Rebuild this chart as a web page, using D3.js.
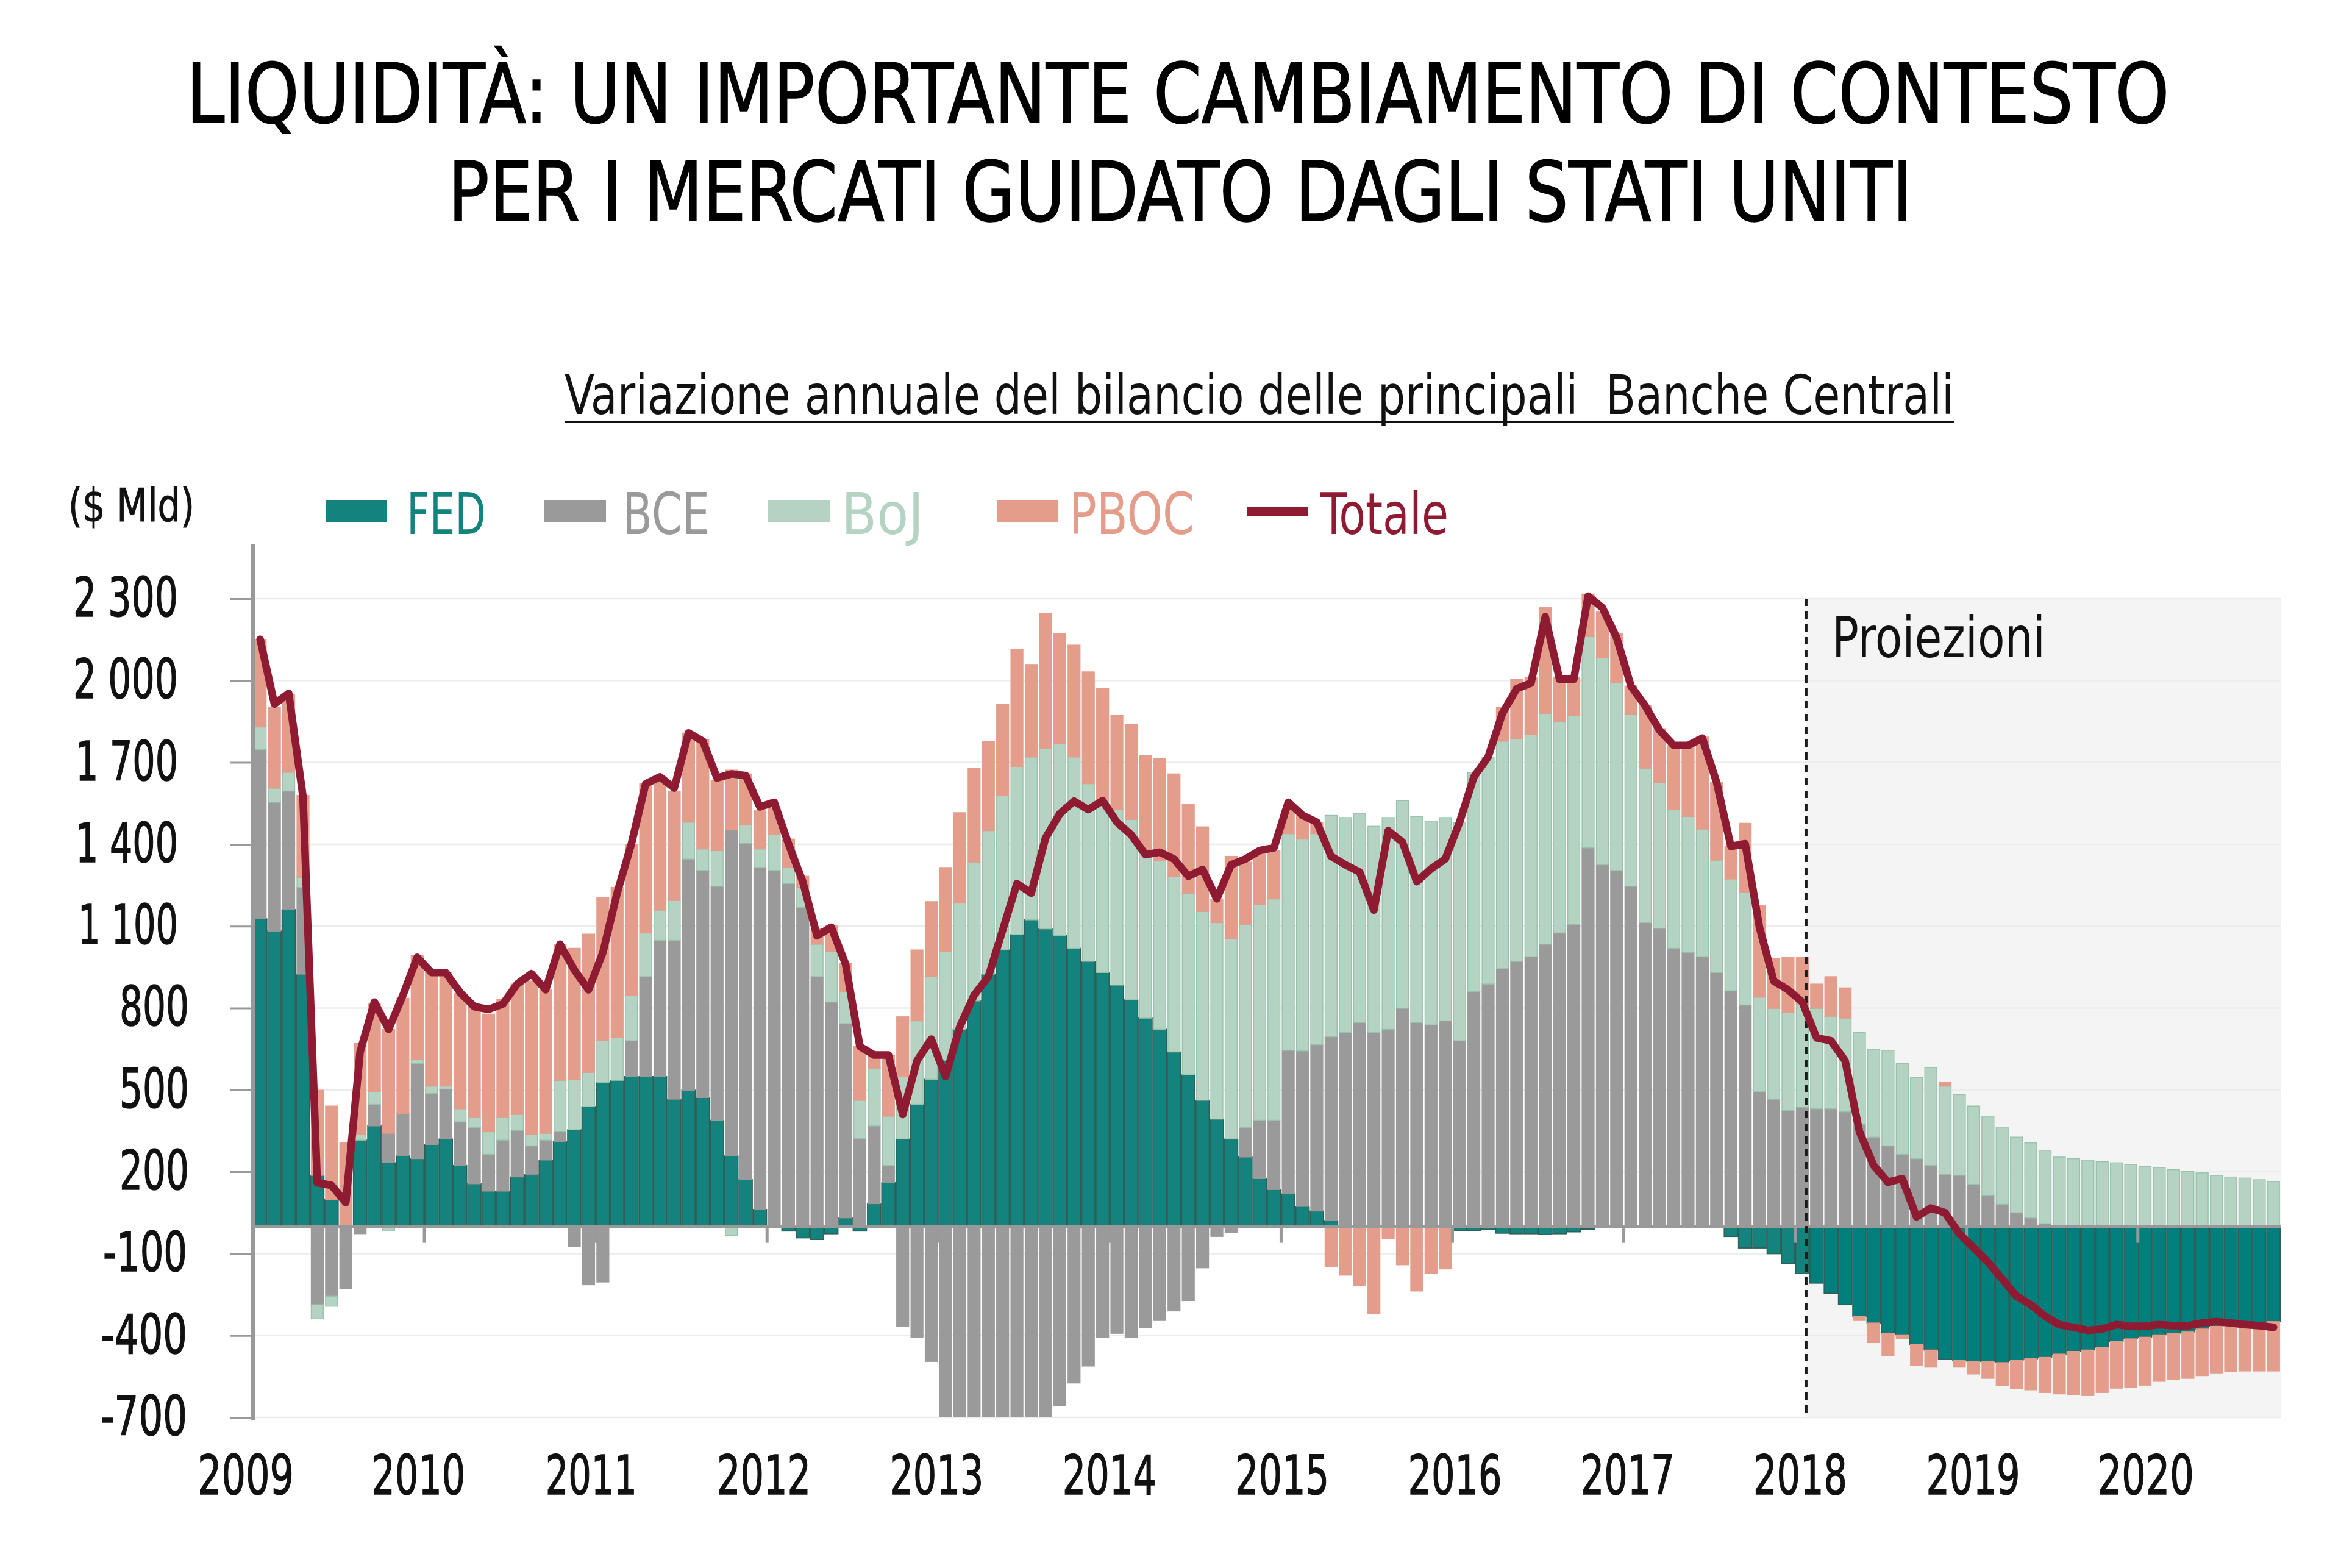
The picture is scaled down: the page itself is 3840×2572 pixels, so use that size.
<!DOCTYPE html>
<html><head><meta charset="utf-8">
<script src="https://cdn.jsdelivr.net/npm/d3@7"></script>
<style>
body{margin:0;background:#fff}
text{font-family:"Liberation Sans Narrow","DejaVu Sans Condensed","Roboto Condensed",Arial,sans-serif;white-space:pre}
</style></head><body>
<svg id="chart" width="3840" height="2572"></svg>
<script>
// ---- DATA (annual change of balance sheet, $ bn, monthly Jan 2009 - Oct 2020) ----
const fed = [
 1127,1082,1161,924,187,98,0,316,368,233,260,248,
 300,320,223,156,129,129,181,191,243,310,354,439,
 528,535,549,549,549,466,499,472,389,258,171,62,
 0,-17,-42,-48,-27,31,-17,83,160,320,447,539,
 607,722,826,924,1013,1069,1123,1090,1065,1019,971,930,
 884,830,763,722,639,555,462,393,320,254,175,135,
 119,73,56,21,0,0,-5,-5,0,0,0,0,
 -15,-15,-12,-25,-27,-27,-30,-27,-20,-10,-5,0,
 0,0,0,0,0,-5,-5,-37,-79,-79,-100,-137,
 -173,-208,-245,-287,-329,-354,-391,-397,-433,-453,-487,-491,
 -495,-495,-499,-491,-485,-480,-468,-458,-453,-443,-422,-412,
 -406,-397,-391,-387,-376,-366,-360,-354,-354,-349
];
const bce = [
 620,472,434,318,-287,-256,-229,-27,79,108,154,349,
 187,183,160,206,135,187,171,104,73,37,-73,-214,
 -204,0,131,366,499,582,847,832,857,1196,1233,1253,
 1304,1256,1169,915,822,712,322,285,63,-366,-408,-495,
 -766,-784,-832,-861,-826,-859,-838,-823,-657,-574,-512,-408,
 -392,-406,-370,-345,-310,-272,-152,-37,-23,108,214,254,
 526,570,610,674,711,747,711,722,799,747,738,753,
 680,861,888,944,971,988,1034,1075,1107,1387,1325,1304,
 1246,1113,1092,1019,1003,988,930,863,811,493,466,424,
 437,431,431,420,374,327,295,264,248,223,191,187,
 154,114,81,50,31,10,0,0,0,0,0,0,
 0,0,0,0,0,0,0,0,0,0
];
const boj = [
 83,52,69,37,-52,-37,0,21,46,-17,0,15,
 27,11,48,37,83,83,58,42,25,188,185,125,
 152,156,167,160,111,146,135,79,131,-33,67,68,
 131,59,73,119,185,118,140,212,181,229,306,376,
 400,464,509,526,566,616,597,661,703,701,651,634,
 643,661,614,618,644,666,692,720,735,745,790,811,
 794,776,773,811,787,765,755,776,761,755,747,745,
 801,803,832,834,816,815,846,776,765,774,759,687,
 630,566,535,508,499,468,412,410,414,347,333,360,
 378,368,339,343,337,322,350,333,297,359,323,296,
 287,290,283,277,275,269,254,248,243,237,233,227,
 220,216,208,202,196,187,181,177,171,164
];
const pboc = [
 321,297,285,300,312,343,306,333,322,381,422,380,
 416,416,422,406,431,433,478,562,526,499,480,507,
 526,551,551,547,488,401,327,400,256,218,187,140,
 98,104,41,56,95,104,197,48,224,219,260,275,
 308,330,344,326,333,430,339,495,404,410,410,406,
 345,348,349,374,375,327,310,87,301,228,198,177,
 88,87,42,-148,-179,-216,-316,-40,-141,-237,-173,-156,
 0,0,0,125,218,208,387,160,139,156,167,181,
 104,228,197,235,260,337,285,119,252,335,183,202,
 171,89,145,111,-16,-72,-83,-15,-77,-63,15,-25,
 -46,-62,-85,-104,-114,-129,-146,-158,-167,-166,-171,-177,
 -176,-171,-171,-170,-171,-171,-172,-176,-176,-181
];
const totale = [
 2151,1914,1953,1575,160,150,87,639,822,722,847,986,
 930,930,857,805,795,815,888,926,867,1034,940,867,
 1003,1221,1402,1622,1647,1606,1808,1778,1643,1658,1652,1537,
 1554,1402,1263,1065,1096,961,659,628,628,410,607,686,
 549,732,847,915,1086,1256,1221,1423,1512,1558,1527,1560,
 1481,1435,1362,1371,1346,1283,1308,1200,1325,1346,1377,1387,
 1554,1506,1481,1356,1325,1298,1159,1450,1408,1263,1310,1346,
 1481,1647,1720,1880,1970,1991,2234,2005,2005,2309,2267,2157,
 1980,1907,1818,1762,1762,1789,1627,1392,1402,1096,899,867,
 822,691,680,607,347,223,162,175,35,67,50,-27,
 -79,-131,-193,-256,-287,-329,-360,-370,-381,-376,-360,-366,
 -366,-360,-364,-364,-354,-349,-354,-360,-364,-370
];
const seriesNames = ["FED","BCE","BoJ","PBOC"];
const yTicks = [-700,-400,-100,200,500,800,1100,1400,1700,2000,2300];
const yearLabels = ["2009","2010","2011","2012","2013","2014","2015","2016","2017","2018","2019","2020"];
const months = d3.timeMonth.range(new Date(2009,0,1), new Date(2020,10,1));
const lastActual = new Date(2018,0,1);

// ---- STYLE ----
const fill = {FED:"#14837e",BCE:"#9a9a9a",BoJ:"#b4d3c2",PBOC:"#e49d8b",Totale:"#8f1b33"};
const fedProj = "#017f7d";
const edge = {FED:"#2f5f58",BCE:"#9a9a9a",BoJ:"#97c2ab",PBOC:"#e49d8b"};

// approximate glyph-width budget for condensed digits
const textW = s => Array.from(s).reduce((a,c)=> a + (c===" "?20 : c==="-"?28 : c==="1"?34 : 38), 0);

const svg = d3.select("#chart");
svg.append("rect").attr("width",3840).attr("height",2572).attr("fill","#fff");

const x = d3.scaleBand().domain(months.map(d=>+d)).range([415,3741]).padding(0);
const y = d3.scaleLinear().domain([-700,2300]).range([2325,982]);
const bw = x.bandwidth();
const [x0,x1] = x.range();

const rows = months.map((m,i)=>({date:+m,FED:fed[i],BCE:bce[i],BoJ:boj[i],PBOC:pboc[i],Totale:totale[i]}));
const stacked = d3.stack().keys(seriesNames).offset(d3.stackOffsetDiverging)(rows);

// projection background
const projX = x(+lastActual) + bw*0.78;
svg.append("rect").attr("x",projX).attr("y",y(2300)).attr("width",x1-projX)
  .attr("height",y(-700)-y(2300)).attr("fill","#f4f4f4");

// gridlines
svg.append("g").selectAll("line").data(yTicks).join("line")
  .attr("x1",x0).attr("x2",x1).attr("y1",d=>y(d)).attr("y2",d=>y(d))
  .attr("stroke","#ececec").attr("stroke-width",2.5);

// clip
svg.append("clipPath").attr("id","plotclip").append("rect")
  .attr("x",x0).attr("y",y(2300)-60).attr("width",x1-x0).attr("height",y(-700)-y(2300)+60);

// bars
const gBars = svg.append("g").attr("clip-path","url(#plotclip)");
gBars.selectAll("g").data(stacked).join("g")
  .selectAll("rect").data(s=>s.filter(d=>d[1]!==d[0]).map(d=>Object.assign(d,{key:s.key}))).join("rect")
  .attr("x",d=>d.key==="FED" ? x(d.data.date)+0.8 : x(d.data.date)+1.8)
  .attr("width",d=>d.key==="FED" ? bw-1.6 : bw-3.6)
  .attr("y",d=>y(Math.max(d[0],d[1]))).attr("height",d=>Math.abs(y(d[0])-y(d[1])))
  .attr("fill",d=> d.key==="FED" && d.data.date > +lastActual ? fedProj : fill[d.key])
  .attr("stroke",d=>edge[d.key]).attr("stroke-width",d=>d.key==="FED"?1.8:1.4);

// zero line
svg.append("line").attr("x1",x0).attr("x2",x1).attr("y1",y(0)).attr("y2",y(0))
  .attr("stroke","#999").attr("stroke-width",5);
// year ticks on zero line
svg.append("g").selectAll("line").data(yearLabels.slice(1)).join("line")
  .attr("x1",d=>x(+new Date(+d,0,1))).attr("x2",d=>x(+new Date(+d,0,1)))
  .attr("y1",y(0)).attr("y2",y(0)+27).attr("stroke","#999").attr("stroke-width",5);

// dashed projection line
svg.append("line").attr("x1",projX).attr("x2",projX).attr("y1",y(2300)).attr("y2",y(-700))
  .attr("stroke","#1a1a1a").attr("stroke-width",4).attr("stroke-dasharray","12,9");

// total line
const line = d3.line().x(d=>x(d.date)+bw/2).y(d=>y(d.Totale)).curve(d3.curveLinear);
svg.append("path").datum(rows).attr("d",line).attr("fill","none")
  .attr("stroke",fill.Totale).attr("stroke-width",12.5).attr("stroke-linejoin","round").attr("stroke-linecap","round");

// y axis
const fmt = v => Math.abs(v) >= 1000 ? d3.format(",")(v).replace(",", " ") : String(v);
const yAxis = svg.append("g").attr("transform",`translate(${x0},0)`)
  .call(d3.axisLeft(y).tickValues(yTicks).tickSize(38).tickPadding(67).tickFormat(fmt).tickSizeOuter(0));
yAxis.select(".domain").remove();
yAxis.selectAll(".tick line").attr("stroke","#999").attr("stroke-width",3);
yAxis.selectAll(".tick text").attr("font-size",89).attr("fill","#111")
  .attr("stroke","#111").attr("stroke-width",1.4)
  .attr("font-family",null).attr("dy","0.32em")
  .attr("dx",d=>Math.abs(d)>=1000 ? -18 : (d<0 ? -3 : 0))
  .attr("textLength",d=>textW(fmt(d))).attr("lengthAdjust","spacingAndGlyphs");
svg.append("line").attr("x1",x0).attr("x2",x0).attr("y1",893).attr("y2",y(-700)+4)
  .attr("stroke","#999").attr("stroke-width",6);

// x labels (evenly spaced label positions)
const xl = d3.scaleLinear().domain([2009,2020]).range([x(+new Date(2009,0,1))-12, x(+new Date(2020,0,1))+13]);
svg.append("g").selectAll("text").data(yearLabels).join("text")
  .attr("x",d=>xl(+d)).attr("y",2451).attr("text-anchor","middle").attr("font-size",89).attr("fill","#111")
  .attr("stroke","#111").attr("stroke-width",1.4)
  .attr("textLength",d=>textW(d)+6).attr("lengthAdjust","spacingAndGlyphs")
  .text(d=>d);

// titles
svg.append("text").attr("x",1932).attr("y",201).attr("text-anchor","middle").attr("font-size",135)
  .attr("textLength",3253).attr("lengthAdjust","spacingAndGlyphs").attr("fill","#000")
  .attr("stroke","#000").attr("stroke-width",1.5)
  .text("LIQUIDITÀ: UN IMPORTANTE CAMBIAMENTO DI CONTESTO");
svg.append("text").attr("x",1936).attr("y",362).attr("text-anchor","middle").attr("font-size",135)
  .attr("textLength",2402).attr("lengthAdjust","spacingAndGlyphs").attr("fill","#000")
  .attr("stroke","#000").attr("stroke-width",1.5)
  .text("PER I MERCATI GUIDATO DAGLI STATI UNITI");
svg.append("text").attr("x",926).attr("y",679).attr("font-size",89)
  .attr("textLength",2279).attr("lengthAdjust","spacingAndGlyphs").attr("fill","#111")
  .text("Variazione annuale del bilancio delle principali  Banche Centrali");
svg.append("line").attr("x1",926).attr("x2",3205).attr("y1",692).attr("y2",692).attr("stroke","#111").attr("stroke-width",4);

svg.append("text").attr("x",112).attr("y",855).attr("font-size",74)
  .attr("textLength",207).attr("lengthAdjust","spacingAndGlyphs").attr("fill","#111")
  .attr("stroke","#111").attr("stroke-width",1).text("($ Mld)");

// legend
const legendItems = [
  {key:"FED", sx:534, tx:667, tw:130},
  {key:"BCE", sx:893, tx:1021, tw:143},
  {key:"BoJ", sx:1260, tx:1380, tw:135},
  {key:"PBOC", sx:1635, tx:1754, tw:205},
  {key:"Totale", sx:2045, tx:2166, tw:210}
];
const lg = svg.append("g");
legendItems.forEach(it=>{
  if(it.key==="Totale"){
    lg.append("rect").attr("x",it.sx).attr("y",831).attr("width",100).attr("height",15).attr("fill",fill[it.key]);
  } else {
    lg.append("rect").attr("x",it.sx).attr("y",820).attr("width",101).attr("height",37).attr("fill",fill[it.key]);
  }
  lg.append("text").attr("x",it.tx).attr("y",876).attr("font-size",95).attr("fill",fill[it.key])
    .attr("textLength",it.tw).attr("lengthAdjust","spacingAndGlyphs").text(it.key);
});

svg.append("text").attr("x",3005).attr("y",1078).attr("font-size",92)
  .attr("textLength",350).attr("lengthAdjust","spacingAndGlyphs").attr("fill","#111").text("Proiezioni");
</script>
</body></html>
